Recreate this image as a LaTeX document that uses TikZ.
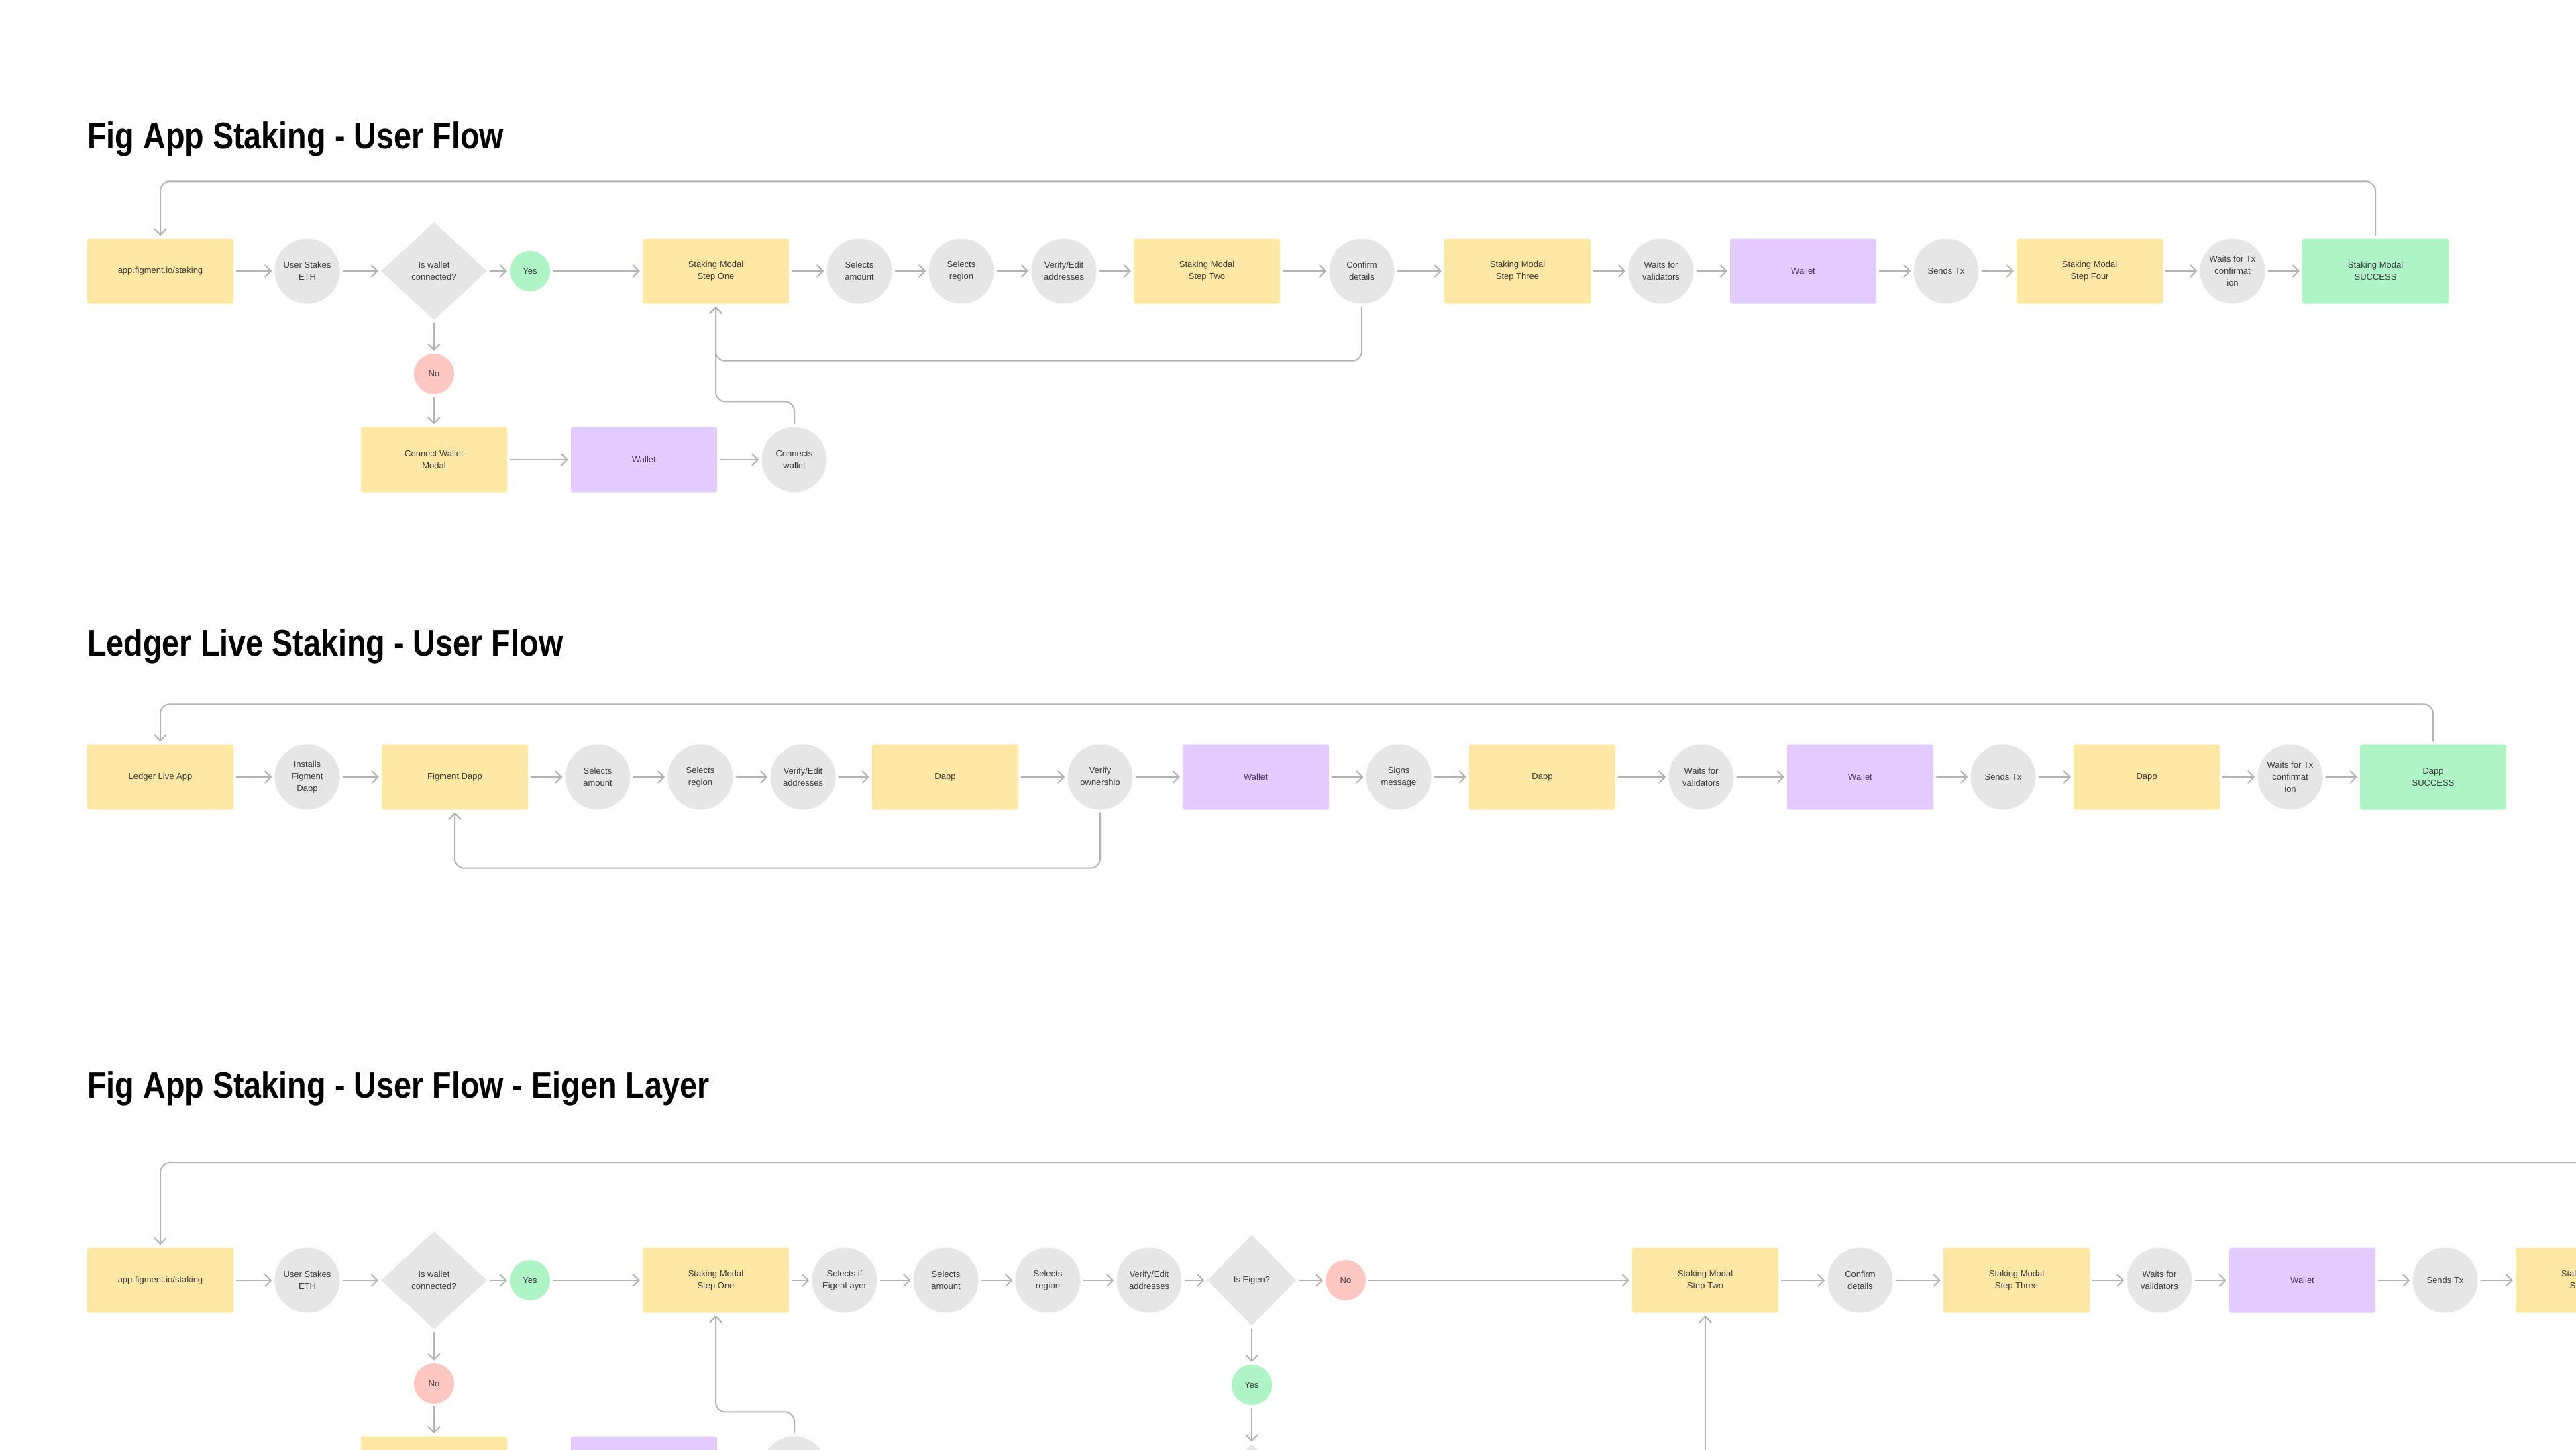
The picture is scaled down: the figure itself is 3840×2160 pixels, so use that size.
\documentclass[tikz,border=0pt]{standalone}
\usepackage{fontspec}
\setmainfont{Liberation Sans}
\newfontfamily\headfont[FakeStretch=0.85]{Liberation Sans}
\usetikzlibrary{arrows.meta, shapes.geometric}
\definecolor{cYellow}{HTML}{FFE8A3}
\definecolor{cPurple}{HTML}{E3CCFF}
\definecolor{cGreen}{HTML}{AFF4C6}
\definecolor{cGray}{HTML}{E6E6E6}
\definecolor{cPink}{HTML}{FFC7C2}
\definecolor{cLine}{HTML}{B3B3B3}
\definecolor{cText}{HTML}{3A3A3A}
\definecolor{cWalletText}{HTML}{4A3560}

\begin{document}
\begin{tikzpicture}[x=1pt, y=-1pt,
      scr/.style={rectangle, rounded corners=3pt, minimum width=218pt, minimum height=97pt,
                  inner sep=2pt, align=center, text=cText, fill=cYellow,
                  font=\fontsize{13}{18}\selectfont},
      act/.style={circle, minimum size=97pt, inner sep=0pt, align=center, text=cText,
                  fill=cGray, font=\fontsize{13}{18}\selectfont},
      ask/.style={diamond, minimum width=158pt, minimum height=146pt, inner sep=0pt,
                  align=center, text=cText, fill=cGray, font=\fontsize{13}{18}\selectfont},
      dot/.style={circle, minimum size=60pt, inner sep=0pt, text=cText,
                  font=\fontsize{13}{18}\selectfont},
      ttl/.style={anchor=base west, inner sep=0pt, font=\headfont\bfseries\fontsize{55}{60}\selectfont},
      ln/.style={draw=cLine, line width=2pt, shorten <=4pt, shorten >=4pt,
                 -{Straight Barb[length=9pt, width=18pt]}}]
    \useasboundingbox (0,0) rectangle (3840,2160);
    \clip (0,0) rectangle (3840,2160);
    \fill[white] (0,0) rectangle (3840,2160);

    % Fig App Staking
    \node[ttl] (t1) at (130,221) {Fig App Staking - User Flow};
    \node[scr] (a1) at (239,404) {app.figment.io/staking};
    \node[act] (a2) at (458,404) {User Stakes\\ETH};
    \node[ask] (a3) at (647,404) {Is wallet\\connected?};
    \node[dot, fill=cGreen] (a4) at (790,404) {Yes};
    \node[scr] (a5) at (1067,404) {Staking Modal\\Step One};
    \node[act] (a6) at (1281,404) {Selects\\amount};
    \node[act] (a7) at (1433,404) {Selects\\region};
    \node[act] (a8) at (1586,404) {Verify/Edit\\addresses};
    \node[scr] (a9) at (1799,404) {Staking Modal\\Step Two};
    \node[act] (a10) at (2030,404) {Confirm\\details};
    \node[scr] (a11) at (2262,404) {Staking Modal\\Step Three};
    \node[act] (a12) at (2476,404) {Waits for\\validators};
    \node[scr, fill=cPurple, text=cWalletText] (a13) at (2688,404) {Wallet};
    \node[act] (a14) at (2901,404) {Sends Tx};
    \node[scr] (a15) at (3115,404) {Staking Modal\\Step Four};
    \node[act] (a16) at (3328,404) {Waits for Tx\\confirmat\\ion};
    \node[scr, fill=cGreen] (a17) at (3541,404) {Staking Modal\\SUCCESS};
    \node[dot, fill=cPink] (a18) at (647,557) {No};
    \node[scr] (a19) at (647,685) {Connect Wallet\\Modal};
    \node[scr, fill=cPurple, text=cWalletText] (a20) at (960,685) {Wallet};
    \node[act] (a21) at (1184,685) {Connects\\wallet};
    \foreach \a/\b in {a1/a2, a2/a3, a3/a4, a4/a5, a5/a6, a6/a7, a7/a8, a8/a9, a9/a10,
                       a10/a11, a11/a12, a12/a13, a13/a14, a14/a15, a15/a16, a16/a17,
                       a3/a18, a18/a19, a19/a20, a20/a21}
      \draw[ln] (\a) -- (\b);
    \draw[ln, rounded corners=14pt] (a17.north) -- ++(0,-85) -| (a1.north);
    \draw[ln, rounded corners=14pt] (a10.south) -- ++(0,85) -| (a5.south);
    \draw[ln, rounded corners=14pt] (a21.north) -- ++(0,-38) -| (a5.south);

    % Ledger Live Staking
    \node[ttl] (t2) at (130,977) {Ledger Live Staking - User Flow};
    \node[scr] (b1) at (239,1158) {Ledger Live App};
    \node[act] (b2) at (458,1158) {Installs\\Figment\\Dapp};
    \node[scr] (b3) at (678,1158) {Figment Dapp};
    \node[act] (b4) at (891,1158) {Selects\\amount};
    \node[act] (b5) at (1044,1158) {Selects\\region};
    \node[act] (b6) at (1197,1158) {Verify/Edit\\addresses};
    \node[scr] (b7) at (1409,1158) {Dapp};
    \node[act] (b8) at (1640,1158) {Verify\\ownership};
    \node[scr, fill=cPurple, text=cWalletText] (b9) at (1872,1158) {Wallet};
    \node[act] (b10) at (2085,1158) {Signs\\message};
    \node[scr] (b11) at (2299,1158) {Dapp};
    \node[act] (b12) at (2536,1158) {Waits for\\validators};
    \node[scr, fill=cPurple, text=cWalletText] (b13) at (2773,1158) {Wallet};
    \node[act] (b14) at (2986,1158) {Sends Tx};
    \node[scr] (b15) at (3200,1158) {Dapp};
    \node[act] (b16) at (3414,1158) {Waits for Tx\\confirmat\\ion};
    \node[scr, fill=cGreen] (b17) at (3627,1158) {Dapp\\SUCCESS};
    \foreach \a/\b in {b1/b2, b2/b3, b3/b4, b4/b5, b5/b6, b6/b7, b7/b8, b8/b9, b9/b10,
                       b10/b11, b11/b12, b12/b13, b13/b14, b14/b15, b15/b16, b16/b17}
      \draw[ln] (\a) -- (\b);
    \draw[ln, rounded corners=14pt] (b17.north) -- ++(0,-60) -| (b1.north);
    \draw[ln, rounded corners=14pt] (b8.south) -- ++(0,87) -| (b3.south);

    % Fig App Staking - Eigen Layer
    \node[ttl] (t3) at (130,1636) {Fig App Staking - User Flow - Eigen Layer};
    \node[scr] (c1) at (239,1908) {app.figment.io/staking};
    \node[act] (c2) at (458,1908) {User Stakes\\ETH};
    \node[ask] (c3) at (647,1908) {Is wallet\\connected?};
    \node[dot, fill=cGreen] (c4) at (790,1908) {Yes};
    \node[scr] (c5) at (1067,1908) {Staking Modal\\Step One};
    \node[act] (c6) at (1259,1908) {Selects if\\EigenLayer};
    \node[act] (c7) at (1410,1908) {Selects\\amount};
    \node[act] (c8) at (1562,1908) {Selects\\region};
    \node[act] (c9) at (1713,1908) {Verify/Edit\\addresses};
    \node[ask, minimum width=133pt, minimum height=135pt] (c10) at (1866,1908) {Is Eigen?};
    \node[dot, fill=cPink] (c11) at (2006,1908) {No};
    \node[scr] (c12) at (2542,1908) {Staking Modal\\Step Two};
    \node[act] (c13) at (2773,1908) {Confirm\\details};
    \node[scr] (c14) at (3006,1908) {Staking Modal\\Step Three};
    \node[act] (c15) at (3219,1908) {Waits for\\validators};
    \node[scr, fill=cPurple, text=cWalletText] (c16) at (3432,1908) {Wallet};
    \node[act] (c17) at (3645,1908) {Sends Tx};
    \node[scr] (c18) at (3859,1908) {Staking Modal\\Step Four};
    \node[dot, fill=cPink] (c19) at (647,2062) {No};
    \node[scr] (c20) at (647,2189) {};
    \node[scr, fill=cPurple] (c21) at (960,2189) {};
    \node[act] (c22) at (1184,2189) {};
    \node[dot, fill=cGreen] (c23) at (1866,2064) {Yes};
    \node[ask, minimum width=133pt, minimum height=135pt] (c24) at (1866,2220) {};
    \coordinate (c0in) at (3900,1733);
    \coordinate (c12in) at (2542,2220);
    \foreach \a/\b in {c1/c2, c2/c3, c3/c4, c4/c5, c5/c6, c6/c7, c7/c8, c8/c9, c9/c10,
                       c10/c11, c11/c12, c12/c13, c13/c14, c14/c15, c15/c16, c16/c17,
                       c17/c18, c3/c19, c19/c20, c10/c23, c23/c24}
      \draw[ln] (\a) -- (\b);
    \draw[ln, rounded corners=14pt] (c0in) -| (c1.north);
    \draw[ln, rounded corners=14pt] (c22.north) -- ++(0,-36) -| (c5.south);
    \draw[ln] (c12in) -- (c12.south);
  \end{tikzpicture}
\end{document}
